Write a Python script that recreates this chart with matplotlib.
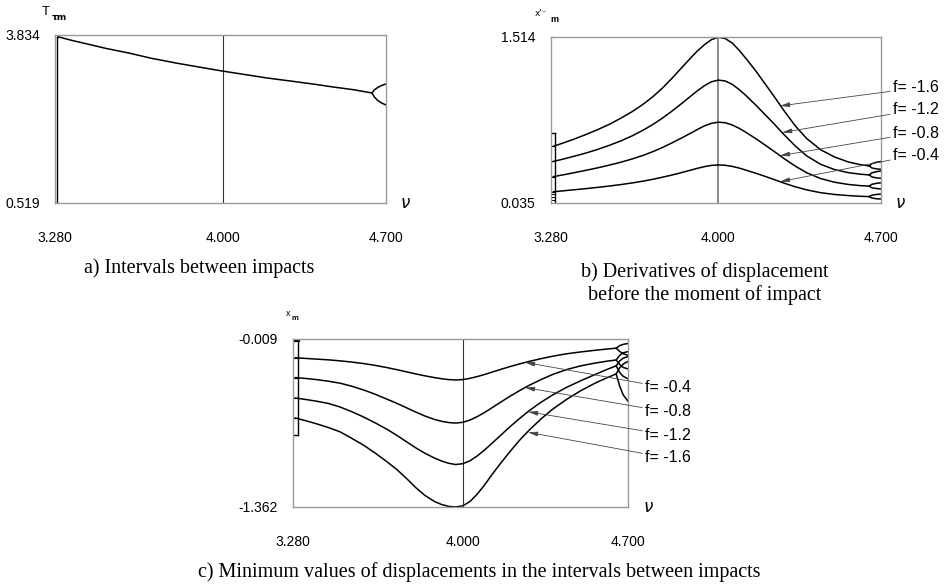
import numpy as np
import matplotlib
matplotlib.use('Agg')
import matplotlib.pyplot as plt

plt.rcParams['font.family'] = ['Liberation Sans', 'DejaVu Sans']

W, H = 953, 587

# ---------------- data ----------------
# a) intervals between impacts
nu_a = [3.293, 3.35, 3.42, 3.50, 3.60, 3.688, 3.80, 3.90, 3.996, 4.10, 4.189, 4.30, 4.40, 4.473, 4.56, 4.64]
T_a = [3.80, 3.73, 3.655, 3.568, 3.475, 3.38, 3.28, 3.20, 3.124, 3.05, 2.986, 2.92, 2.858, 2.808, 2.755, 2.69]
arm_nu_a = [4.640, 4.650, 4.665, 4.682, 4.700]
T_up_a = [2.690, 2.750, 2.800, 2.840, 2.867]
T_lo_a = [2.690, 2.610, 2.540, 2.490, 2.453]

# common nu grid for b) and c)
nu = [3.29, 3.33, 3.38, 3.43, 3.48, 3.53, 3.58, 3.63, 3.68, 3.72, 3.76, 3.80, 3.84, 3.88,
      3.91, 3.94, 3.97, 4.00, 4.03, 4.06, 4.09, 4.12, 4.16, 4.20, 4.24, 4.28, 4.33,
      4.38, 4.44, 4.50, 4.56, 4.61, 4.65]
f_vals = ['-1.6', '-1.2', '-0.8', '-0.4']

# b) derivatives of displacement before impact
xd_16 = [0.540, 0.568, 0.605, 0.645, 0.688, 0.735, 0.790, 0.850, 0.920, 0.985, 1.060, 1.145,
         1.235, 1.325, 1.390, 1.445, 1.490, 1.512, 1.500, 1.460, 1.395, 1.320, 1.215, 1.100,
         0.985, 0.865, 0.725, 0.610, 0.510, 0.445, 0.400, 0.377, 0.365]
xd_12 = [0.405, 0.425, 0.452, 0.480, 0.512, 0.548, 0.588, 0.634, 0.688, 0.737, 0.792, 0.853,
         0.918, 0.985, 1.035, 1.080, 1.115, 1.130, 1.122, 1.092, 1.045, 0.990, 0.910, 0.825,
         0.740, 0.650, 0.545, 0.455, 0.380, 0.333, 0.305, 0.292, 0.285]
xd_08 = [0.270, 0.285, 0.305, 0.326, 0.348, 0.372, 0.398, 0.428, 0.462, 0.494, 0.530, 0.570,
         0.612, 0.656, 0.690, 0.722, 0.745, 0.755, 0.750, 0.730, 0.700, 0.663, 0.610, 0.553,
         0.495, 0.435, 0.365, 0.305, 0.253, 0.220, 0.200, 0.190, 0.185]
xd_04 = [0.135, 0.143, 0.153, 0.163, 0.174, 0.186, 0.199, 0.214, 0.231, 0.247, 0.265, 0.284,
         0.305, 0.327, 0.344, 0.359, 0.370, 0.374, 0.371, 0.361, 0.346, 0.327, 0.301, 0.273,
         0.244, 0.214, 0.180, 0.152, 0.127, 0.111, 0.101, 0.095, 0.092]
arm_nu_b = [4.65, 4.66, 4.68, 4.70]
xd_up = [[0.365, 0.385, 0.398, 0.405], [0.285, 0.303, 0.314, 0.32],
         [0.185, 0.201, 0.210, 0.215], [0.092, 0.104, 0.111, 0.115]]
xd_lo = [[0.365, 0.348, 0.339, 0.335], [0.285, 0.268, 0.259, 0.255],
         [0.185, 0.171, 0.164, 0.16], [0.092, 0.080, 0.073, 0.07]]
tip_nu_b = [4.265, 4.274, 4.265, 4.265]
tip_b = [0.90, 0.663, 0.457, 0.225]

# c) minimum displacement between impacts
xm_16 = [-0.645, -0.665, -0.692, -0.722, -0.757, -0.810, -0.865, -0.930, -1.000, -1.060, -1.130,
         -1.205, -1.270, -1.318, -1.342, -1.357, -1.362, -1.352, -1.318, -1.260, -1.190, -1.110,
         -1.010, -0.915, -0.825, -0.745, -0.655, -0.575, -0.495, -0.425, -0.365, -0.322, -0.290]
xm_12 = [-0.484, -0.495, -0.510, -0.528, -0.557, -0.595, -0.638, -0.686, -0.738, -0.785, -0.835,
         -0.885, -0.930, -0.968, -0.992, -1.010, -1.020, -1.013, -0.990, -0.952, -0.906, -0.855,
         -0.785, -0.715, -0.650, -0.588, -0.520, -0.460, -0.398, -0.345, -0.295, -0.255, -0.225]
xm_08 = [-0.320, -0.326, -0.336, -0.349, -0.365, -0.390, -0.420, -0.455, -0.495, -0.527, -0.562,
         -0.597, -0.630, -0.657, -0.672, -0.682, -0.686, -0.680, -0.662, -0.635, -0.603, -0.567,
         -0.518, -0.470, -0.425, -0.383, -0.337, -0.295, -0.255, -0.225, -0.203, -0.188, -0.178]
xm_04 = [-0.160, -0.165, -0.171, -0.177, -0.185, -0.195, -0.207, -0.222, -0.240, -0.256, -0.273,
         -0.290, -0.306, -0.320, -0.329, -0.336, -0.339, -0.336, -0.326, -0.312, -0.296, -0.278,
         -0.254, -0.231, -0.210, -0.190, -0.168, -0.148, -0.128, -0.113, -0.100, -0.090, -0.083]
arm_nu_c = [4.65, 4.665, 4.68, 4.70]
xm_up = [[-0.29, -0.24, -0.21, -0.19], [-0.225, -0.185, -0.163, -0.15],
         [-0.178, -0.14, -0.12, -0.11], [-0.083, -0.062, -0.052, -0.045]]
xm_lo = [[-0.29, -0.39, -0.46, -0.51], [-0.225, -0.28, -0.31, -0.33],
         [-0.178, -0.215, -0.238, -0.25], [-0.083, -0.11, -0.128, -0.14]]
tip_nu_c = [4.276, 4.276, 4.263, 4.263]
tip_c = [-0.76, -0.595, -0.40, -0.197]

x_ticks = [3.28, 4.0, 4.7]
x_labels = ['3.280', '4.000', '4.700']


def px_axes(fig, l, t, r, b):
    return fig.add_axes([l / W, 1 - b / H, (r - l) / W, (b - t) / H])


def style(ax, ylo, yhi, ylabs, vcol='#333333', vlw=0.8):
    ax.set_xlim(3.28, 4.70)
    ax.set_ylim(ylo, yhi)
    ax.set_xticks(x_ticks)
    ax.set_xticklabels(x_labels)
    ax.set_yticks([ylo, yhi])
    ax.set_yticklabels(ylabs)
    ax.tick_params(length=0, labelsize=10)
    ax.tick_params(axis='x', pad=20)
    ax.tick_params(axis='y', pad=11)
    for s in ax.spines.values():
        s.set_color('#9a9a9a')
        s.set_linewidth(1.0)
    ax.axvline(4.0, color=vcol, lw=vlw)
    ax.text(1.045, 0.0, 'ν', transform=ax.transAxes, fontsize=12,
            ha='left', va='center', family=['DejaVu Sans'], style='italic')


fig = plt.figure(figsize=(W / 100, H / 100), dpi=100)
lw = 1.1
cap = 14.5

# ---------- a ----------
ax = px_axes(fig, 55, 35, 386, 203)
style(ax, 0.519, 3.834, ['0.519', '3.834'])
ax.plot(nu_a, T_a, color='black', lw=lw)
ax.plot(arm_nu_a, T_up_a, color='black', lw=lw)
ax.plot(arm_nu_a, T_lo_a, color='black', lw=lw)
ax.plot([3.289, 3.289], [0.519, 3.80], color='black', lw=1.0)
ax.plot([3.289, 3.293], [3.80, 3.80], color='black', lw=1.0)
fig.text(42 / W, 1 - 12 / H, 'T', fontsize=9.5, ha='left', va='center')
fig.text(52 / W, 1 - 17 / H, 'τm', fontsize=6.5, ha='left', va='center',
         weight='bold', family=['DejaVu Sans'])
fig.text(199 / W, 1 - 268 / H, 'a) Intervals between impacts', fontsize=cap,
         family='Liberation Serif', ha='center', va='center')

# ---------- b ----------
ax = px_axes(fig, 551, 37, 881, 203)
style(ax, 0.035, 1.514, ['0.035', '1.514'], vcol='#777777', vlw=1.2)
curves_b = [xd_16, xd_12, xd_08, xd_04]
for i, ys in enumerate(curves_b):
    ax.plot(nu, ys, color='black', lw=lw)
    ax.plot(arm_nu_b, xd_up[i], color='black', lw=lw)
    ax.plot(arm_nu_b, xd_lo[i], color='black', lw=lw)
    ax.plot([3.28, 3.297], [ys[0], ys[0]], color='black', lw=0.8)
ax.plot([3.297, 3.297], [0.035, 0.66], color='black', lw=1.0)
ax.plot([3.28, 3.297], [0.66, 0.66], color='black', lw=1.0)
for yy in [0.06, 0.09, 0.115]:
    ax.plot([3.28, 3.297], [yy, yy], color='black', lw=0.7)
label_y_b = [88, 110, 133, 155]
for i in range(4):
    ax.annotate('f= ' + f_vals[i], xy=(tip_nu_b[i], tip_b[i]),
                xytext=(893 / W, 1 - label_y_b[i] / H), textcoords='figure fraction',
                fontsize=11.5, ha='left', va='center',
                arrowprops=dict(arrowstyle='-|>,head_length=0.5,head_width=0.12',
                                color='#444444', lw=0.6, shrinkA=0, shrinkB=0))
fig.text(535 / W, 1 - 13 / H, "x'⁻", fontsize=6.5, ha='left', va='center',
         family=['DejaVu Sans'])
fig.text(550 / W, 1 - 19 / H, 'm', fontsize=6.5, ha='left', va='center', weight='bold')
fig.text(705 / W, 1 - 272 / H, 'b) Derivatives of displacement', fontsize=cap,
         family='Liberation Serif', ha='center', va='center')
fig.text(705 / W, 1 - 295 / H, 'before the moment of impact', fontsize=cap,
         family='Liberation Serif', ha='center', va='center')

# ---------- c ----------
ax = px_axes(fig, 293, 339, 628, 507)
style(ax, -1.362, -0.009, ['-1.362', '-0.009'])
curves_c = [xm_16, xm_12, xm_08, xm_04]
for i, ys in enumerate(curves_c):
    ax.plot(nu, ys, color='black', lw=lw)
    ax.plot(arm_nu_c, xm_up[i], color='black', lw=lw)
    ax.plot(arm_nu_c, xm_lo[i], color='black', lw=lw)
    ax.plot([3.28, 3.301], [ys[0], ys[0]], color='black', lw=0.8)
ax.plot([3.301, 3.301], [-0.78, -0.009], color='black', lw=1.0)
ax.plot([3.28, 3.301], [-0.78, -0.78], color='black', lw=1.0)
ax.plot([3.28, 3.301], [-0.02, -0.02], color='black', lw=3)
label_y_c = [458, 435, 412, 388]
for i in range(4):
    ax.annotate('f= ' + f_vals[i], xy=(tip_nu_c[i], tip_c[i]),
                xytext=(645 / W, 1 - label_y_c[i] / H), textcoords='figure fraction',
                fontsize=11.5, ha='left', va='center',
                arrowprops=dict(arrowstyle='-|>,head_length=0.5,head_width=0.12',
                                color='#444444', lw=0.6, shrinkA=0, shrinkB=0))
fig.text(286 / W, 1 - 314 / H, 'x', fontsize=6.5, ha='left', va='center')
fig.text(292 / W, 1 - 318 / H, 'm', fontsize=5.5, ha='left', va='center', weight='bold')
fig.text(479 / W, 1 - 572 / H,
         'c) Minimum values of displacements in the intervals between impacts',
         fontsize=cap, family='Liberation Serif', ha='center', va='center')

fig.savefig('out.png', dpi=100)
